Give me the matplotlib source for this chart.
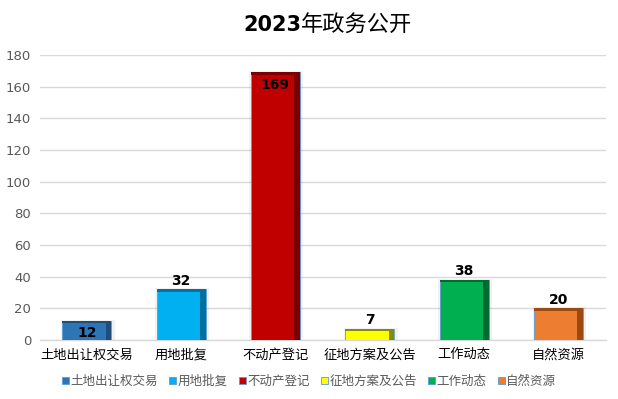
import matplotlib
matplotlib.use("Agg")
import matplotlib.pyplot as plt
import numpy as np
from matplotlib.patches import Rectangle

plt.rcParams['font.family'] = ['Noto Sans CJK SC', 'DejaVu Sans']

categories = ["土地出让权交易", "用地批复", "不动产登记", "征地方案及公告", "工作动态", "自然资源"]
values = [12, 32, 169, 7, 38, 20]
colors = ["#2E75B6", "#00B0F0", "#C00000", "#FFFF00", "#00B050", "#ED7D31"]
dark_colors = ["#1F4E79", "#0070A0", "#7A0000", "#8A8A00", "#006B30", "#9C4A12"]
label_inside = [True, False, True, False, False, False]
title_num = "2023"
title_txt = "年政务公开"
yticks = [0, 20, 40, 60, 80, 100, 120, 140, 160, 180]

fig = plt.figure(figsize=(6.18, 3.99), dpi=100)
ax = fig.add_axes([0.064, 0.148, 0.916, 0.714])

x = np.arange(len(categories))
w = 0.52
# soft shadow
ax.bar(x + 0.01, [v + 0.8 for v in values], width=w + 0.05, color="#000000", alpha=0.05, zorder=2)
ax.bar(x, values, width=w, color=colors, edgecolor="#5B9BD5", linewidth=0.6, zorder=3)
# right side shade
ax.bar(x + w / 2 - 0.03, values, width=0.06, color=dark_colors, zorder=4)
# top cap
cap = 1.6
ax.bar(x, [cap] * len(values), bottom=[v - cap for v in values], width=w, color=dark_colors, zorder=4)

for xi, v, inside in zip(x, values, label_inside):
    if inside:
        ax.text(xi, v - 3.2, str(v), ha="center", va="top", fontsize=10, fontweight="bold",
                family="DejaVu Sans", color="black", zorder=6)
    else:
        ax.text(xi, v + 1.0, str(v), ha="center", va="bottom", fontsize=10, fontweight="bold",
                family="DejaVu Sans", color="black", zorder=6)

ax.set_xlim(-0.5, len(categories) - 0.5)
ax.set_ylim(0, 180)
ax.set_yticks(yticks)
ax.set_yticklabels([str(t) for t in yticks], family="DejaVu Sans", fontsize=9.5, color="#595959")
ax.set_xticks(x)
ax.set_xticklabels(categories, fontsize=9.5, color="black")
ax.tick_params(axis="both", length=0, pad=6)
ax.tick_params(axis="y", pad=6)
ax.grid(axis="y", color="#D9D9D9", linewidth=1, zorder=0)
ax.set_axisbelow(True)
for s in ["top", "right", "left"]:
    ax.spines[s].set_visible(False)
ax.spines["bottom"].set_color("#D9D9D9")
ax.spines["bottom"].set_linewidth(1)

split = 0.487
fig.text(split, 0.942, title_num, ha="right", va="center_baseline", fontsize=15,
         fontweight="bold", family="DejaVu Sans")
fig.text(split, 0.942, title_txt, ha="left", va="center_baseline", fontsize=16,
         fontweight="normal", family="Noto Sans CJK SC")

handles = [Rectangle((0, 0), 1, 1, facecolor=c, edgecolor="#5B9BD5", linewidth=0.6) for c in colors]
fig.legend(handles, categories, loc="lower center", bbox_to_anchor=(0.5, 0.0), ncol=6,
           frameon=False, fontsize=9, handlelength=0.55, handleheight=0.55, handletextpad=0.12,
           columnspacing=0.9, labelcolor="#595959")

fig.savefig("out.png", dpi=100)
